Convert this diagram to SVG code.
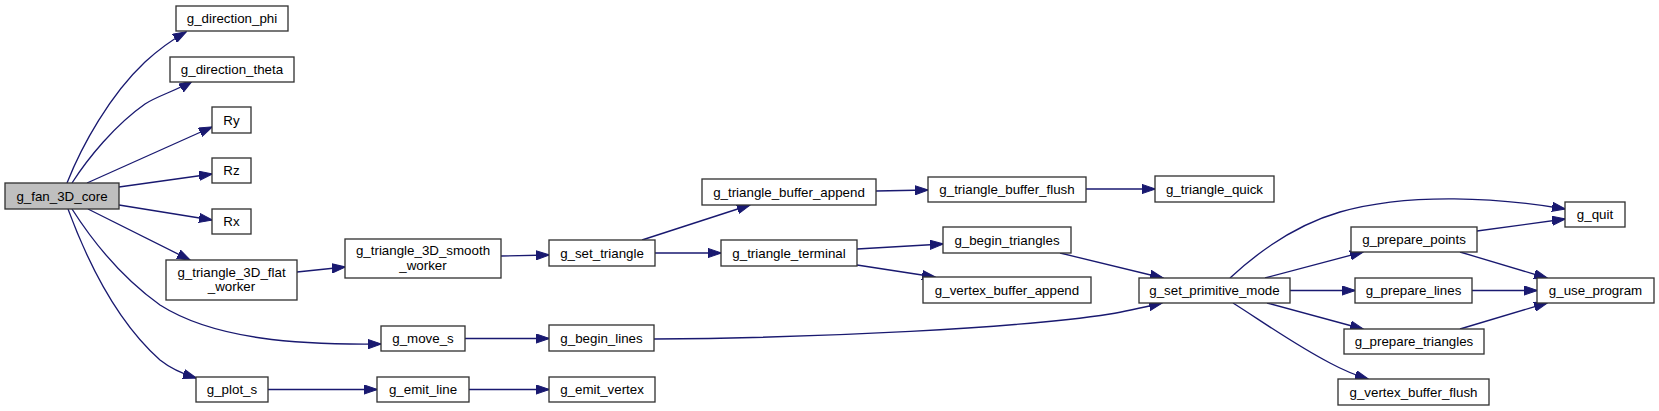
<svg xmlns="http://www.w3.org/2000/svg" width="1659" height="411" viewBox="0 0 1659 411">
<style>
.node rect{fill:#ffffff;stroke:#333333;stroke-width:1.33}
.node.root rect{fill:#bfbfbf}
.node text{font-family:"Liberation Sans",Arial,Helvetica,sans-serif;font-size:13.33px;fill:#000;text-anchor:middle}
.edge path{fill:none;stroke:#191970;stroke-width:1.33;marker-end:url(#arr)}
</style>
<defs>
<marker id="arr" viewBox="0 0 14 10" refX="13" refY="5" markerWidth="14" markerHeight="10" markerUnits="userSpaceOnUse" orient="auto">
<path d="M0,0.4 L13.5,5 L0,9.6 z" fill="#191970" stroke="#191970" stroke-width="1"/>
</marker>
</defs>
<rect x="0" y="0" width="1659" height="411" fill="#ffffff"/>
<g id="edges" class="edge">
<path d="M67,183 C82,145 110,95 145,62 C157,51 170,41 186,32"/>
<path d="M72,183 C88,158 115,125 145,104 C157,96 178,90 192,81"/>
<path d="M87,183 L212,127"/>
<path d="M119,187 L212,174"/>
<path d="M119,205 L212,220"/>
<path d="M88,209 L190,260"/>
<path d="M72,209 C95,245 125,280 160,305 C215,340 300,345 381,344"/>
<path d="M68,209 C85,255 115,320 160,360 C170,368 180,373 196,378"/>
<path d="M297,272 L345,267"/>
<path d="M501,256 L549,255"/>
<path d="M642,240 L750,205"/>
<path d="M655,253 L721,253"/>
<path d="M876,191 L928,190"/>
<path d="M1086,189 L1155,189"/>
<path d="M857,249 L943,244"/>
<path d="M857,265 L935,277"/>
<path d="M1060,253 L1163,278"/>
<path d="M654,339 C820,338 1020,328 1110,314 C1128,311 1145,307 1162,303"/>
<path d="M1230,278 C1258,252 1295,225 1340,212 C1410,192 1500,198 1565,209"/>
<path d="M1265,278 L1363,252"/>
<path d="M1290,290.5 L1355,290.5"/>
<path d="M1267,303 L1363,329"/>
<path d="M1233,303 C1260,320 1295,345 1330,363 C1343,370 1355,375 1368,379"/>
<path d="M1477,231 L1565,219"/>
<path d="M1460,252 L1547,278"/>
<path d="M1472,290.5 L1537,290.5"/>
<path d="M1460,329 L1547,303"/>
<path d="M465,338.5 L549,338.5"/>
<path d="M268,389.5 L377,389.5"/>
<path d="M469,389.5 L549,389.5"/>
</g>
<g id="n_g_fan_3D_core" class="node root"><rect x="5" y="183" width="114" height="26"/><text x="62" y="200.5">g_fan_3D_core</text></g>
<g id="n_g_direction_phi" class="node"><rect x="176" y="6" width="112" height="25"/><text x="232" y="23">g_direction_phi</text></g>
<g id="n_g_direction_theta" class="node"><rect x="170" y="57" width="124" height="25"/><text x="232" y="74">g_direction_theta</text></g>
<g id="n_Ry" class="node"><rect x="212" y="107" width="39" height="26"/><text x="231.5" y="124.5">Ry</text></g>
<g id="n_Rz" class="node"><rect x="212" y="158" width="39" height="25"/><text x="231.5" y="175">Rz</text></g>
<g id="n_Rx" class="node"><rect x="212" y="209" width="39" height="25"/><text x="231.5" y="226">Rx</text></g>
<g id="n_g_triangle_3D_flat_worker" class="node"><rect x="166" y="260" width="131" height="40"/><text x="231.5" y="276.5">g_triangle_3D_flat</text><text x="231.5" y="291">_worker</text></g>
<g id="n_g_move_s" class="node"><rect x="381" y="326" width="84" height="25"/><text x="423" y="343">g_move_s</text></g>
<g id="n_g_plot_s" class="node"><rect x="196" y="377" width="72" height="25"/><text x="232" y="394">g_plot_s</text></g>
<g id="n_g_triangle_3D_smooth_worker" class="node"><rect x="345" y="239" width="156" height="39"/><text x="423" y="255">g_triangle_3D_smooth</text><text x="423" y="269.5">_worker</text></g>
<g id="n_g_set_triangle" class="node"><rect x="549" y="240" width="106" height="26"/><text x="602" y="257.5">g_set_triangle</text></g>
<g id="n_g_begin_lines" class="node"><rect x="549" y="325" width="105" height="26"/><text x="601.5" y="342.5">g_begin_lines</text></g>
<g id="n_g_emit_line" class="node"><rect x="377" y="377" width="92" height="25"/><text x="423" y="394">g_emit_line</text></g>
<g id="n_g_emit_vertex" class="node"><rect x="549" y="377" width="106" height="25"/><text x="602" y="394">g_emit_vertex</text></g>
<g id="n_g_triangle_buffer_append" class="node"><rect x="702" y="179" width="174" height="26"/><text x="789" y="196.5">g_triangle_buffer_append</text></g>
<g id="n_g_triangle_terminal" class="node"><rect x="721" y="240" width="136" height="26"/><text x="789" y="257.5">g_triangle_terminal</text></g>
<g id="n_g_triangle_buffer_flush" class="node"><rect x="928" y="177" width="158" height="25"/><text x="1007" y="194">g_triangle_buffer_flush</text></g>
<g id="n_g_begin_triangles" class="node"><rect x="943" y="227" width="128" height="26"/><text x="1007" y="244.5">g_begin_triangles</text></g>
<g id="n_g_vertex_buffer_append" class="node"><rect x="923" y="277" width="168" height="26"/><text x="1007" y="294.5">g_vertex_buffer_append</text></g>
<g id="n_g_triangle_quick" class="node"><rect x="1155" y="176" width="119" height="26"/><text x="1214.5" y="193.5">g_triangle_quick</text></g>
<g id="n_g_set_primitive_mode" class="node"><rect x="1139" y="278" width="151" height="25"/><text x="1214.5" y="295">g_set_primitive_mode</text></g>
<g id="n_g_quit" class="node"><rect x="1565" y="202" width="60" height="25"/><text x="1595" y="219">g_quit</text></g>
<g id="n_g_prepare_points" class="node"><rect x="1351" y="227" width="126" height="25"/><text x="1414" y="244">g_prepare_points</text></g>
<g id="n_g_prepare_lines" class="node"><rect x="1355" y="278" width="117" height="25"/><text x="1413.5" y="295">g_prepare_lines</text></g>
<g id="n_g_prepare_triangles" class="node"><rect x="1344" y="329" width="140" height="25"/><text x="1414" y="346">g_prepare_triangles</text></g>
<g id="n_g_vertex_buffer_flush" class="node"><rect x="1338" y="379" width="151" height="26"/><text x="1413.5" y="396.5">g_vertex_buffer_flush</text></g>
<g id="n_g_use_program" class="node"><rect x="1537" y="278" width="117" height="25"/><text x="1595.5" y="295">g_use_program</text></g>
</svg>
